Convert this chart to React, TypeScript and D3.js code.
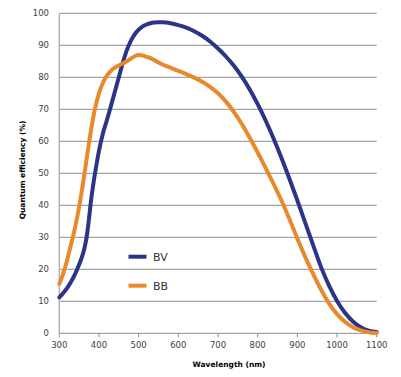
import React from "react";
import * as d3 from "d3";

const bvWavelengths = [300, 310, 320, 330, 340, 350, 355, 360, 365, 370, 375, 380, 385, 390, 395, 400, 410, 420, 430, 440, 450, 460, 470, 480, 490, 500, 510, 520, 530, 540, 550, 560, 570, 580, 600, 620, 640, 660, 680, 700, 720, 740, 760, 780, 800, 820, 840, 860, 880, 900, 920, 940, 960, 980, 1000, 1020, 1040, 1060, 1080, 1100];
const bvValues = [11.2, 12.6, 14.2, 16.2, 18.6, 21.5, 23.1, 25, 27.5, 31, 36, 41.5, 46, 50, 53.6, 57, 62.5, 66.6, 71, 75.5, 80, 84.5, 88.4, 91.3, 93.4, 94.9, 95.9, 96.5, 96.9, 97.1, 97.2, 97.2, 97.1, 96.9, 96.3, 95.5, 94.4, 93.0, 91.2, 89.0, 86.5, 83.6, 80.2, 76.2, 71.6, 66.5, 60.9, 54.8, 48.3, 41.5, 34.5, 27.5, 20.6, 14.9, 10.1, 6.4, 3.7, 1.9, 0.8, 0.4];
const bbWavelengths = [300, 310, 320, 330, 340, 350, 360, 370, 380, 390, 400, 410, 420, 430, 440, 450, 460, 470, 480, 490, 500, 510, 520, 530, 540, 550, 560, 570, 580, 600, 620, 640, 660, 680, 700, 720, 740, 760, 780, 800, 820, 840, 860, 880, 900, 920, 940, 960, 980, 1000, 1020, 1040, 1060, 1080, 1100];
const bbValues = [15.4, 18.7, 23, 28, 33.2, 39.5, 47, 55.5, 63.5, 70.2, 75, 78.3, 80.5, 82, 83, 83.7, 84.3, 85, 85.8, 86.6, 87, 86.8, 86.4, 86, 85.3, 84.6, 84, 83.5, 83, 82, 81, 79.9, 78.6, 77.0, 75.0, 72.4, 69.2, 65.4, 61.1, 56.5, 51.7, 46.7, 41.5, 35.7, 29.6, 23.8, 18.5, 13.6, 9.3, 6.0, 3.6, 1.9, 0.9, 0.35, 0.1];
const xTicks = [300, 400, 500, 600, 700, 800, 900, 1000, 1100];
const yTicks = [0, 10, 20, 30, 40, 50, 60, 70, 80, 90, 100];
const seriesNames = ["BV", "BB"];
const seriesColors = ["#2b3585", "#e8892c"];

export default function App() {
  const W = 401, H = 377;
  const x = d3.scaleLinear().domain([300, 1100]).range([59.3, 376.7]);
  const y = d3.scaleLinear().domain([0, 100]).range([333.3, 13.3]);
  const line = d3
    .line<[number, number]>()
    .x((d) => x(d[0]))
    .y((d) => y(d[1]))
    .curve(d3.curveMonotoneX);
  const series: [number, number][][] = [
    bvWavelengths.map((w, i) => [w, bvValues[i]]),
    bbWavelengths.map((w, i) => [w, bbValues[i]]),
  ];
  const font = "'DejaVu Sans', Verdana, sans-serif";
  return (
    <svg width={W} height={H} style={{ position: "absolute", left: 0, top: 0, background: "#fff" }}>
      {yTicks.map((t) => (
        <g key={t}>
          {t > 0 && (
            <line x1={x(300)} x2={x(1100)} y1={y(t)} y2={y(t)} stroke="#8c8c8c" strokeWidth={1} />
          )}
          <text x={49} y={y(t)} dy="0.35em" textAnchor="end" fontSize={8.5} fill="#404040" fontFamily={font}>
            {t}
          </text>
        </g>
      ))}
      <line x1={x(300)} x2={x(300)} y1={y(100)} y2={y(0)} stroke="#b5b5b5" strokeWidth={1.5} />
      <line x1={x(300)} x2={x(1100)} y1={y(0)} y2={y(0)} stroke="#8c8c8c" strokeWidth={1} />
      {xTicks.map((t) => (
        <g key={t}>
          <line x1={x(t)} x2={x(t)} y1={y(0)} y2={y(0) + 4} stroke="#8c8c8c" strokeWidth={1} />
          <text x={x(t)} y={348} textAnchor="middle" fontSize={8.5} fill="#404040" fontFamily={font}>
            {t}
          </text>
        </g>
      ))}
      {series.map((s, i) => (
        <path key={i} d={line(s) || ""} fill="none" stroke={seriesColors[i]} strokeWidth={4} strokeLinejoin="round" strokeLinecap="round" />
      ))}
      {seriesNames.map((n, i) => (
        <g key={n}>
          <line x1={128.5} x2={146.5} y1={256.7 + i * 29} y2={256.7 + i * 29} stroke={seriesColors[i]} strokeWidth={4} />
          <text x={153} y={256.7 + i * 29} dy="0.36em" fontSize={11} fill="#333" fontFamily={font}>
            {n}
          </text>
        </g>
      ))}
      <text x={229} y={367} textAnchor="middle" fontSize={7.5} fontWeight="bold" fill="#000" fontFamily={font}>
        Wavelength (nm)
      </text>
      <text transform="translate(25,170) rotate(-90)" textAnchor="middle" fontSize={7.5} fontWeight="bold" fill="#000" fontFamily={font}>
        Quantum efficiency (%)
      </text>
    </svg>
  );
}
